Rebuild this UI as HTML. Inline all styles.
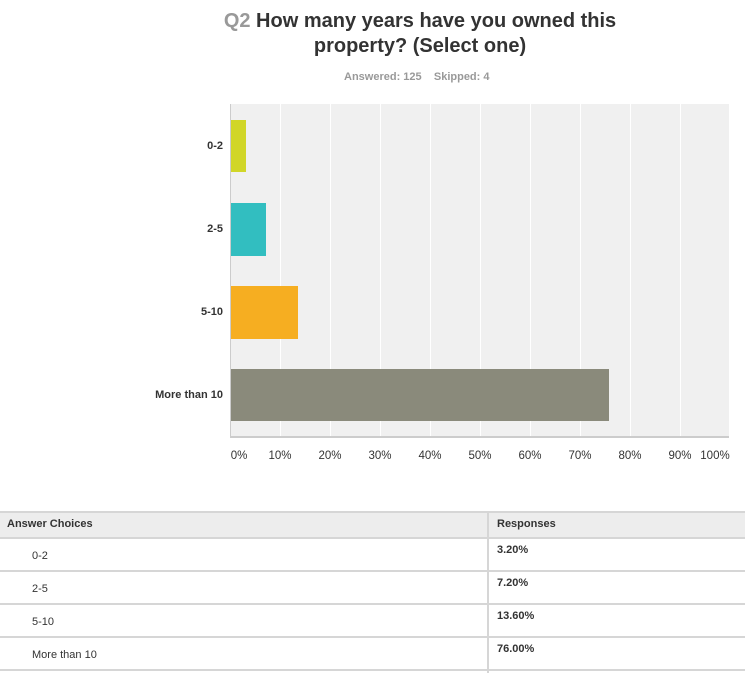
<!DOCTYPE html>
<html><head><style>
body{margin:0;width:745px;height:673px;background:#fff;font-family:"Liberation Sans",Arial,sans-serif;position:relative;overflow:hidden}
.a{position:absolute}
.t{font-weight:bold;font-size:20px;color:#333;text-align:center;width:500px;left:170px;line-height:25px}
.yl{font-size:11px;font-weight:bold;color:#333;text-align:right;right:522px;}
.xl{font-size:11.5px;color:#333;top:450px;width:40px;text-align:center}
.g{top:104px;height:333px;width:1px;background:#fff}
.row{left:0;width:745px;height:2px;background:#d6d6d6}
.c{font-size:11px;color:#333}
</style></head><body>
<div class="a t" style="top:9px;"><span style="color:#999">Q2</span> How many years have you owned this</div>
<div class="a t" style="top:34px">property? (Select one)</div>
<div class="a" style="top:71px;left:344px;font-size:11px;font-weight:bold;color:#999">Answered: 125&nbsp;&nbsp;&nbsp;&nbsp;Skipped: 4</div>

<div class="a" style="left:230px;top:104px;width:499px;height:333px;background:#f0f0f0"></div>
<div class="a g" style="left:280px"></div><div class="a g" style="left:330px"></div><div class="a g" style="left:380px"></div><div class="a g" style="left:430px"></div><div class="a g" style="left:480px"></div><div class="a g" style="left:530px"></div><div class="a g" style="left:580px"></div><div class="a g" style="left:630px"></div><div class="a g" style="left:680px"></div>
<div class="a" style="left:230px;top:104px;width:1px;height:334px;background:#ccc"></div>
<div class="a" style="left:230px;top:436px;width:499px;height:2px;background:#ccc"></div>

<div class="a" style="left:231px;top:120px;width:15px;height:52px;background:#d1d628"></div>
<div class="a" style="left:231px;top:203px;width:35px;height:53px;background:#32bec0"></div>
<div class="a" style="left:231px;top:286px;width:67px;height:53px;background:#f6ae21"></div>
<div class="a" style="left:231px;top:369px;width:378px;height:52px;background:#8a8a7b"></div>

<div class="a yl" style="top:140px">0-2</div>
<div class="a yl" style="top:223px">2-5</div>
<div class="a yl" style="top:306px">5-10</div>
<div class="a yl" style="top:389px">More than 10</div>

<div class="a xl" style="left:219px">0%</div><div class="a xl" style="left:260px">10%</div><div class="a xl" style="left:310px">20%</div><div class="a xl" style="left:360px">30%</div><div class="a xl" style="left:410px">40%</div><div class="a xl" style="left:460px">50%</div><div class="a xl" style="left:510px">60%</div><div class="a xl" style="left:560px">70%</div><div class="a xl" style="left:610px">80%</div><div class="a xl" style="left:660px">90%</div><div class="a xl" style="left:695px">100%</div>

<div class="a" style="left:0;top:512px;width:745px;height:26px;background:#ededed"></div>
<div class="a row" style="top:511px"></div>
<div class="a row" style="top:537px"></div>
<div class="a row" style="top:570px"></div>
<div class="a row" style="top:603px"></div>
<div class="a row" style="top:636px"></div>
<div class="a row" style="top:669px"></div>
<div class="a" style="left:487px;top:511px;width:2px;height:162px;background:#d6d6d6"></div>
<div class="a c" style="left:7px;top:518px;font-weight:bold">Answer Choices</div>
<div class="a c" style="left:497px;top:518px;font-weight:bold">Responses</div>
<div class="a c" style="left:32px;top:550px">0-2</div>
<div class="a c" style="left:32px;top:583px">2-5</div>
<div class="a c" style="left:32px;top:616px">5-10</div>
<div class="a c" style="left:32px;top:649px">More than 10</div>
<div class="a c" style="left:497px;top:544px;font-weight:bold">3.20%</div>
<div class="a c" style="left:497px;top:577px;font-weight:bold">7.20%</div>
<div class="a c" style="left:497px;top:610px;font-weight:bold">13.60%</div>
<div class="a c" style="left:497px;top:643px;font-weight:bold">76.00%</div>
</body></html>
